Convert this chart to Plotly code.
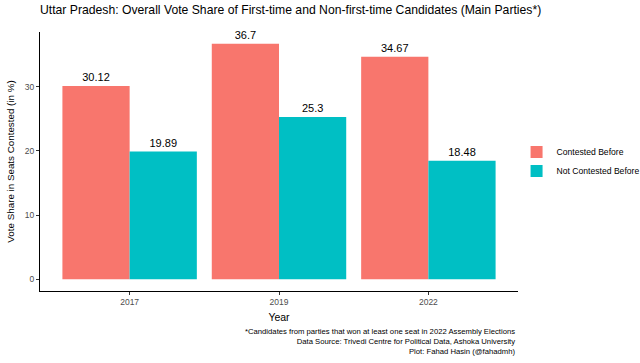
import plotly.graph_objects as go

years = ["2017", "2019", "2022"]
contested = [30.12, 36.7, 34.67]
not_contested = [19.89, 25.3, 18.48]
series_names = ["Contested Before", "Not Contested Before"]
colors = ["#F8766D", "#00BFC4"]

fig = go.Figure()
for name, vals, col in zip(series_names, [contested, not_contested], colors):
    fig.add_trace(go.Bar(
        x=years, y=vals, name=name, marker_color=col, marker_line_width=0,
        text=[f"{v:g}" for v in vals], textposition="outside",
        textfont=dict(size=11, color="black"), cliponaxis=False,
    ))

fig.update_layout(
    width=640, height=363,
    margin=dict(l=40, r=122, t=32, b=72, autoexpand=False),
    barmode="group", bargap=0.1, bargroupgap=0,
    plot_bgcolor="white", paper_bgcolor="white",
    font=dict(family="Liberation Sans, Arial, sans-serif", color="black"),
    title=dict(text="Uttar Pradesh: Overall Vote Share of First-time and Non-first-time Candidates (Main Parties*)",
               x=40/640, xanchor="left", y=1-10/363, yanchor="middle", font=dict(size=12.2)),
    legend=dict(x=-0.003 + 1, xanchor="left", y=0.5, yanchor="middle", font=dict(size=8.6),
                tracegroupgap=0, itemsizing="constant", itemwidth=30),
    xaxis=dict(title=dict(text="Year", font=dict(size=10.5), standoff=7),
               showline=True, linecolor="black", linewidth=1, ticks="outside",
               tickcolor="#333", ticklen=3, tickfont=dict(size=8.5, color="#4d4d4d"),
               range=[-0.6, 2.6], showgrid=False, automargin=False),
    yaxis=dict(title=dict(text="Vote Share in Seats Contested (in %)", font=dict(size=9.8), standoff=8),
               showline=True, linecolor="black", linewidth=1, ticks="outside",
               tickcolor="#333", ticklen=3, tickfont=dict(size=8.5, color="#4d4d4d"),
               range=[-1.835, 38.535], tickvals=[0, 10, 20, 30], showgrid=False, zeroline=False,
               automargin=False),
)
fig.add_annotation(
    text="*Candidates from parties that won at least one seat in 2022 Assembly Elections<br>Data Source: Trivedi Centre for Political Data, Ashoka University<br>Plot: Fahad Hasin (@fahadmh)",
    xref="paper", yref="paper", x=1, y=-0.13, xanchor="right", yanchor="top",
    align="right", showarrow=False, font=dict(size=7.7, color="black"),
)
fig.write_html("out.html", config={"displayModeBar": False})

with open("out.html", encoding="utf-8") as f:
    html = f.read()
html = html.replace("<head>", "<head><style>html,body{margin:0;padding:0;overflow:hidden;}</style>", 1)
with open("out.html", "w", encoding="utf-8") as f:
    f.write(html)
